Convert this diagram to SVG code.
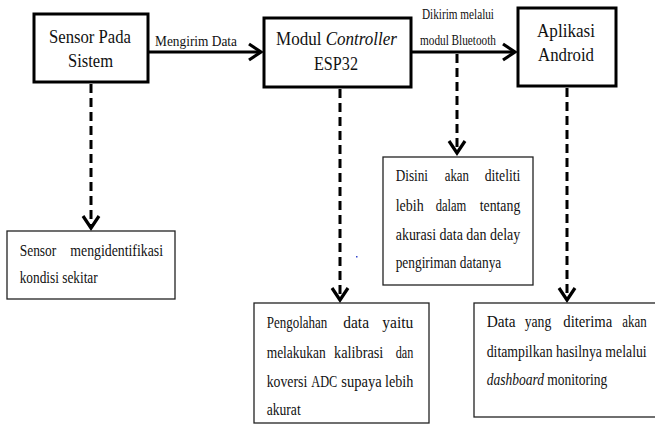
<svg xmlns="http://www.w3.org/2000/svg" width="655" height="433" viewBox="0 0 655 433">
<style>
.main{fill:#fff;stroke:#000;stroke-width:3}
.note{fill:#fff;stroke:#222;stroke-width:1.3}
text{font-family:"Liberation Serif","Times New Roman",serif;fill:#111}
.t{font-size:19px;text-anchor:middle}
.l{font-size:15px}
.s{font-size:14px}
.b{font-size:16px}
.flow{stroke:#000;stroke-width:3;fill:none}
.dash{stroke:#000;stroke-width:3;fill:none;stroke-dasharray:9 5}
</style>
<defs>
<marker id="chev" markerUnits="userSpaceOnUse" viewBox="-16 -12 20 24" refX="0" refY="0" markerWidth="20" markerHeight="24" orient="auto">
<path d="M-12,-8 L0,0 L-12,8" fill="none" stroke="#000" stroke-width="3.2" stroke-dasharray="none"/>
</marker>
</defs>
<g id="connectors">
<line class="flow" x1="149" y1="52" x2="261" y2="52" marker-end="url(#chev)"/>
<line class="flow" x1="412" y1="52" x2="515" y2="52" marker-end="url(#chev)"/>
<line class="dash" x1="91" y1="84" x2="91" y2="228" marker-end="url(#chev)"/>
<line class="dash" x1="340" y1="89" x2="340" y2="300" marker-end="url(#chev)"/>
<line class="dash" x1="457" y1="54" x2="457" y2="153" marker-end="url(#chev)"/>
<line class="dash" x1="567" y1="88" x2="567" y2="300" marker-end="url(#chev)"/>
<text class="l" x="155" y="46" textLength="82" lengthAdjust="spacingAndGlyphs">Mengirim Data</text>
<text class="s" x="422" y="19" textLength="72" lengthAdjust="spacingAndGlyphs">Dikirim melalui</text>
<text class="s" x="420" y="45" textLength="76" lengthAdjust="spacingAndGlyphs">modul Bluetooth</text>
</g>
<g id="sensor">
<rect class="main" x="34" y="14" width="114" height="68"/>
<text class="t" x="90" y="43" textLength="82" lengthAdjust="spacingAndGlyphs">Sensor Pada</text>
<text class="t" x="90.5" y="67" textLength="45" lengthAdjust="spacingAndGlyphs">Sistem</text>
</g>
<g id="controller">
<rect class="main" x="264" y="18" width="147" height="69"/>
<text class="t" x="336.5" y="45" textLength="121" lengthAdjust="spacingAndGlyphs">Modul <tspan font-style="italic">Controller</tspan></text>
<text class="t" x="336" y="70" textLength="44" lengthAdjust="spacingAndGlyphs">ESP32</text>
</g>
<g id="android">
<rect class="main" x="518" y="8" width="98" height="78"/>
<text class="t" x="566" y="37" textLength="58" lengthAdjust="spacingAndGlyphs">Aplikasi</text>
<text class="t" x="566" y="61" textLength="56" lengthAdjust="spacingAndGlyphs">Android</text>
</g>
<g id="note-sensor">
<rect class="note" x="7" y="231" width="168" height="68"/>
<text class="b" x="19.7" y="256" textLength="36.6" lengthAdjust="spacingAndGlyphs">Sensor</text>
<text class="b" x="70.3" y="256" textLength="92.7" lengthAdjust="spacingAndGlyphs">mengidentifikasi</text>
<text class="b" x="19.7" y="283" textLength="78" lengthAdjust="spacingAndGlyphs">kondisi sekitar</text>
</g>
<g id="note-bluetooth">
<rect class="note" x="383" y="157" width="150" height="128"/>
<text class="b" x="395.7" y="181" textLength="32.3" lengthAdjust="spacingAndGlyphs">Disini</text>
<text class="b" x="444.7" y="181" textLength="24.3" lengthAdjust="spacingAndGlyphs">akan</text>
<text class="b" x="484.7" y="181" textLength="35.6" lengthAdjust="spacingAndGlyphs">diteliti</text>
<text class="b" x="395.7" y="211" textLength="28" lengthAdjust="spacingAndGlyphs">lebih</text>
<text class="b" x="435.7" y="211" textLength="30.6" lengthAdjust="spacingAndGlyphs">dalam</text>
<text class="b" x="479.7" y="211" textLength="40.6" lengthAdjust="spacingAndGlyphs">tentang</text>
<text class="b" x="395.7" y="240" textLength="124.6" lengthAdjust="spacingAndGlyphs">akurasi data dan delay</text>
<text class="b" x="395.7" y="268" textLength="105.6" lengthAdjust="spacingAndGlyphs">pengiriman datanya</text>
</g>
<g id="note-controller">
<rect class="note" x="254" y="303" width="175" height="120"/>
<text class="b" x="266.7" y="328" textLength="60.6" lengthAdjust="spacingAndGlyphs">Pengolahan</text>
<text class="b" x="343.3" y="328" textLength="25.7" lengthAdjust="spacingAndGlyphs">data</text>
<text class="b" x="382.3" y="328" textLength="31" lengthAdjust="spacingAndGlyphs">yaitu</text>
<text class="b" x="266.7" y="358" textLength="59" lengthAdjust="spacingAndGlyphs">melakukan</text>
<text class="b" x="334" y="358" textLength="49.3" lengthAdjust="spacingAndGlyphs">kalibrasi</text>
<text class="b" x="395.7" y="358" textLength="17.6" lengthAdjust="spacingAndGlyphs">dan</text>
<text class="b" x="266.7" y="387" textLength="40.6" lengthAdjust="spacingAndGlyphs">koversi</text>
<text class="b" x="311.3" y="387" textLength="26" lengthAdjust="spacingAndGlyphs">ADC</text>
<text class="b" x="341.3" y="387" textLength="40.4" lengthAdjust="spacingAndGlyphs">supaya</text>
<text class="b" x="385" y="387" textLength="28.3" lengthAdjust="spacingAndGlyphs">lebih</text>
<text class="b" x="266.7" y="415" textLength="34" lengthAdjust="spacingAndGlyphs">akurat</text>
</g>
<g id="note-android">
<rect class="note" x="474" y="303" width="190" height="114"/>
<text class="b" x="486.7" y="327" textLength="29" lengthAdjust="spacingAndGlyphs">Data</text>
<text class="b" x="524.7" y="327" textLength="26.6" lengthAdjust="spacingAndGlyphs">yang</text>
<text class="b" x="563.3" y="327" textLength="49" lengthAdjust="spacingAndGlyphs">diterima</text>
<text class="b" x="622.3" y="327" textLength="24.4" lengthAdjust="spacingAndGlyphs">akan</text>
<text class="b" x="486.7" y="357" textLength="160" lengthAdjust="spacingAndGlyphs">ditampilkan hasilnya melalui</text>
<text class="b" x="486.7" y="385" textLength="120.6" lengthAdjust="spacingAndGlyphs"><tspan font-style="italic">dashboard</tspan> monitoring</text>
</g>
<rect x="356" y="256" width="1.5" height="1.5" fill="#3344cc"/>
</svg>
